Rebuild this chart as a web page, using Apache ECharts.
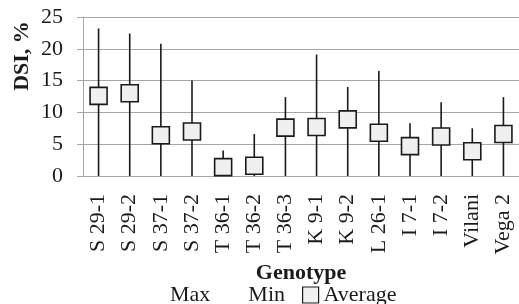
<!DOCTYPE html>
<html>
<head>
<meta charset="utf-8">
<script src="https://cdn.jsdelivr.net/npm/echarts@6/dist/echarts.min.js"></script>
<style>
  html, body { margin: 0; padding: 0; background: #fff; }
  #chart { width: 519px; height: 304px; }
</style>
</head>
<body>
<div id="chart"></div>
<script>
// DSI range per genotype (min..max line, average square)
const genotypes = ['S 29-1', 'S 29-2', 'S 37-1', 'S 37-2', 'T 36-1', 'T 36-2', 'T 36-3',
                   'K 9-1', 'K 9-2', 'L 26-1', 'I 7-1', 'I 7-2', 'Vilani', 'Vega 2'];
const maxVals = [23.2, 22.4, 20.8, 15.0, 4.0, 6.6, 12.4, 19.1, 14.0, 16.5, 8.3, 11.6, 7.5, 12.4];
const minVals = [0, 0, 0, 0, 0, 0, 0, 0, 0, 0, 0, 0, 0, 0];
const avgVals = [12.6, 13.0, 6.4, 7.0, 1.4, 1.6, 7.6, 7.7, 8.9, 6.8, 4.7, 6.2, 3.9, 6.6];

const FONT = 'Liberation Serif';
const INK = '#1a1a1a';
const GRID = '#a6a6a6';

const chart = echarts.init(document.getElementById('chart'), null, { renderer: 'canvas' });

chart.setOption({
  animation: false,
  textStyle: { fontFamily: FONT, color: INK },
  grid: { left: 83, right: 0, top: 17, bottom: 128, containLabel: false },
  xAxis: {
    type: 'category',
    data: genotypes,
    name: 'Genotype',
    nameLocation: 'middle',
    nameGap: 82,
    nameTextStyle: { fontFamily: FONT, fontSize: 22, fontWeight: 'bold', color: INK },
    axisLine: { lineStyle: { color: GRID, width: 1 } },
    axisTick: { length: 6, lineStyle: { color: GRID } },
    axisLabel: { rotate: 90, margin: 18, fontSize: 22, fontFamily: FONT, color: INK, interval: 0 },
  },
  yAxis: {
    type: 'value',
    min: 0, max: 25, interval: 5,
    axisLine: { show: true, lineStyle: { color: GRID, width: 1 } },
    axisTick: { show: true, length: 6, lineStyle: { color: GRID } },
    axisLabel: { margin: 20, fontSize: 22, fontFamily: FONT, color: INK },
    splitLine: { lineStyle: { color: GRID, width: 1 } },
  },
  legend: {
    left: 144, top: 279,
    itemWidth: 16, itemHeight: 16, itemGap: 17,
    textStyle: { fontFamily: FONT, fontSize: 22, color: INK },
    data: [
      { name: 'Max', icon: 'rect', itemStyle: { color: 'transparent', borderWidth: 0 } },
      { name: 'Min', icon: 'rect', itemStyle: { color: 'transparent', borderWidth: 0 } },
      { name: 'Average', icon: 'rect', itemStyle: { color: '#f0f0f0', borderColor: INK, borderWidth: 1.2 } },
    ],
  },
  graphic: [{
    type: 'text',
    x: 22, y: 56,
    rotation: Math.PI / 2,
    style: {
      text: 'DSI, %',
      font: 'bold 22px "Liberation Serif"',
      fill: INK,
      align: 'center',
      verticalAlign: 'middle',
    },
  }],
  series: [
    {
      // vertical min-max line
      type: 'custom',
      name: 'range',
      silent: true,
      z: 2,
      data: genotypes.map((g, i) => [i, minVals[i], maxVals[i]]),
      renderItem(params, api) {
        const lo = api.coord([api.value(0), api.value(1)]);
        const hi = api.coord([api.value(0), api.value(2)]);
        return {
          type: 'line',
          shape: { x1: lo[0], y1: lo[1], x2: hi[0], y2: hi[1] },
          style: { stroke: INK, lineWidth: 1.6 },
        };
      },
    },
    { type: 'scatter', name: 'Max', data: maxVals, symbolSize: 0, silent: true },
    { type: 'scatter', name: 'Min', data: minVals, symbolSize: 0, silent: true },
    {
      type: 'scatter',
      name: 'Average',
      data: avgVals,
      symbol: 'rect',
      symbolSize: 17,
      z: 3,
      itemStyle: { color: '#f0f0f0', borderColor: INK, borderWidth: 1.6, opacity: 1 },
    },
  ],
});
</script>
</body>
</html>
